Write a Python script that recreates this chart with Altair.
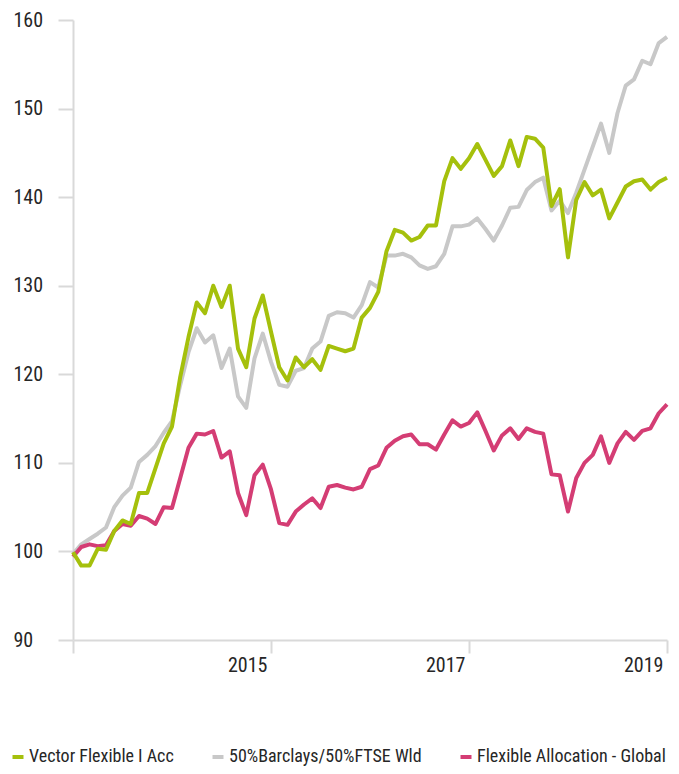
import altair as alt
import pandas as pd

series_names = ["Vector Flexible I Acc", "50%Barclays/50%FTSE Wld", "Flexible Allocation - Global"]
series_colors = ["#a5c00c", "#c8c8c8", "#d43d74"]

vector = [99.9, 98.4, 98.4, 100.3, 100.2, 102.3, 103.5, 103.1, 106.6, 106.6,
          109.4, 112.2, 114.1, 119.7, 124.2, 128.1, 126.9, 130.0, 127.6, 130.0,
          122.9, 120.8, 126.3, 128.9, 124.8, 120.8, 119.3, 121.9, 120.8, 121.7,
          120.5, 123.2, 122.9, 122.6, 122.9, 126.4, 127.5, 129.3, 133.9, 136.3,
          136.0, 135.1, 135.5, 136.8, 136.8, 141.8, 144.4, 143.2, 144.4, 146.0,
          144.2, 142.4, 143.5, 146.4, 143.5, 146.8, 146.6, 145.6, 139.0, 140.9,
          133.2, 139.7, 141.7, 140.2, 140.85, 137.6, 139.4, 141.2, 141.8, 142.0,
          140.85, 141.7, 142.2]

benchmark = [99.7, 100.8, 101.4, 102.0, 102.7, 105.0, 106.3, 107.2, 110.1, 110.9,
             111.9, 113.4, 114.7, 118.8, 122.5, 125.2, 123.6, 124.4, 120.7, 122.9,
             117.5, 116.2, 121.8, 124.6, 121.4, 118.8, 118.6, 120.4, 120.7, 122.9,
             123.7, 126.6, 127.0, 126.9, 126.4, 127.8, 130.4, 129.8, 133.4, 133.4,
             133.6, 133.2, 132.3, 131.9, 132.2, 133.6, 136.7, 136.7, 136.9, 137.6,
             136.4, 135.1, 136.8, 138.8, 138.9, 140.8, 141.7, 142.2, 138.5, 139.6,
             138.2, 140.5, 143.1, 145.7, 148.3, 145.0, 149.5, 152.6, 153.3, 155.4,
             155.0, 157.4, 158.1]

category = [99.4, 100.5, 100.8, 100.6, 100.7, 102.3, 103.1, 102.9, 104.0, 103.7,
            103.1, 105.0, 104.9, 108.3, 111.7, 113.3, 113.2, 113.6, 110.6, 111.3,
            106.6, 104.1, 108.6, 109.8, 107.0, 103.2, 103.0, 104.5, 105.3, 106.0,
            104.9, 107.3, 107.5, 107.2, 107.0, 107.3, 109.3, 109.7, 111.7, 112.5,
            113.0, 113.2, 112.1, 112.1, 111.5, 113.2, 114.8, 114.1, 114.5, 115.7,
            113.6, 111.4, 113.1, 113.9, 112.7, 113.9, 113.5, 113.3, 108.7, 108.6,
            104.5, 108.3, 110.0, 110.9, 113.0, 110.0, 112.2, 113.5, 112.6, 113.6,
            113.9, 115.6, 116.6]

x_ticks = [2013, 2015, 2017, 2019]
y_ticks = [90, 100, 110, 120, 130, 140, 150, 160]
start_year = 2013

rows = []
for name, vals in zip(series_names, [vector, benchmark, category]):
    for m, v in enumerate(vals):
        rows.append({"t": start_year + m / 12.0, "value": v, "series": name})
df = pd.DataFrame(rows)

FONT = "Liberation Sans Narrow, Roboto Condensed, DejaVu Sans Condensed, sans-serif"
AXIS_GREY = "#d9d9d9"
TEXT = "#262626"

color_scale = alt.Scale(domain=series_names, range=series_colors)

base = alt.Chart(df).encode(
    x=alt.X("t:Q",
            scale=alt.Scale(domain=[2013, 2019], nice=False, zero=False),
            axis=alt.Axis(values=x_ticks, format="d", title=None, grid=False,
                          labelExpr="datum.value == 2013 ? '' : datum.label",
                          domainColor=AXIS_GREY, domainWidth=2,
                          tickColor=AXIS_GREY, tickWidth=2, tickSize=13,
                          labelFont=FONT, labelFontSize=20, labelColor=TEXT,
                          labelAlign="right", labelBaseline="top",
                          labelPadding=2, labelOffset=-4,
                          labelFlush=False, labelOverlap=False)),
    y=alt.Y("value:Q",
            scale=alt.Scale(domain=[90, 160], nice=False, zero=False),
            axis=alt.Axis(values=y_ticks, title=None, grid=False,
                          domainColor=AXIS_GREY, domainWidth=2,
                          tickColor=AXIS_GREY, tickWidth=2, tickSize=15,
                          labelFont=FONT, labelFontSize=20, labelColor=TEXT,
                          labelAlign="left", labelBaseline="middle",
                          labelPadding=45, labelOverlap=False)),
    color=alt.Color("series:N", scale=color_scale,
                    legend=alt.Legend(title=None, orient="none",
                                      legendX=-64, legendY=728,
                                      direction="horizontal",
                                      symbolType="stroke", symbolSize=121,
                                      symbolStrokeWidth=4,
                                      labelFont=FONT, labelFontSize=18,
                                      labelColor=TEXT, labelLimit=400,
                                      columnPadding=30, labelOffset=2)),
)

draw_order = [series_names[1], series_names[2], series_names[0]]
layers = [
    base.transform_filter(alt.datum.series == name).mark_line(strokeWidth=4, strokeJoin="round")
    for name in draw_order
]

chart = alt.layer(*layers).properties(
    width=594,
    height=620,
    autosize=alt.AutoSizeParams(type="none"),
    padding={"left": 65, "top": 12, "right": 4, "bottom": 126},
).configure_view(stroke=None)

chart.save("out.html", embed_options={"renderer": "svg", "actions": False})
